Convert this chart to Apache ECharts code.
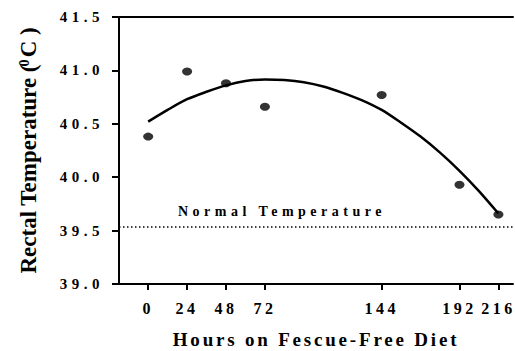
<!DOCTYPE html>
<html>
<head>
<meta charset="utf-8">
<script src="https://cdn.jsdelivr.net/npm/echarts@6/dist/echarts.min.js"></script>
<style>
  html, body { margin: 0; padding: 0; background: #fff; }
  #chart { width: 515px; height: 351px; }
</style>
</head>
<body>
<div id="chart"></div>
<script>
// measured rectal temperatures
const hours = [0, 24, 48, 72, 144, 192, 216];
const temps = [40.38, 40.99, 40.88, 40.66, 40.77, 39.93, 39.65];

// fitted curve, every 12 h
const fitHours = [0, 12, 24, 36, 48, 60, 72, 84, 96, 108, 120, 132, 144, 156, 168, 180, 192, 204, 216];
const fitTemps = [40.52, 40.63, 40.73, 40.80, 40.86, 40.90, 40.915, 40.91, 40.89, 40.85, 40.79, 40.72,
  40.63, 40.51, 40.38, 40.23, 40.06, 39.87, 39.66];

const normalTemp = 39.54;
const xTicks = [0, 24, 48, 72, 144, 192, 216];

const FONT = 'Liberation Serif';

const chart = echarts.init(document.getElementById('chart'), null, { renderer: 'svg' });

const option = {
  animation: false,
  grid: { left: 119, right: 2, top: 17, bottom: 67, outerBoundsMode: 'none' },
  xAxis: [
    {
      type: 'value',
      min: -18,
      max: 225,
      name: 'Hours on Fescue-Free Diet',
      nameLocation: 'middle',
      nameGap: 46,
      nameTextStyle: { fontFamily: FONT, fontWeight: 'bold', fontSize: 19, color: '#000' },
      axisLine: { onZero: false, lineStyle: { color: '#000', width: 2 } },
      axisTick: { customValues: xTicks, length: 6, lineStyle: { color: '#000', width: 2 } },
      axisLabel: {
        customValues: xTicks,
        margin: 16,
        fontFamily: FONT,
        fontWeight: 'bold',
        fontSize: 16,
        color: '#000'
      },
      splitLine: { show: false }
    },
    {
      type: 'value',
      position: 'top',
      min: -18,
      max: 225,
      axisLine: { onZero: false, lineStyle: { color: '#000', width: 2 } },
      axisTick: { show: false },
      axisLabel: { show: false },
      splitLine: { show: false }
    }
  ],
  yAxis: {
    type: 'value',
    min: 39,
    max: 41.5,
    interval: 0.5,
    name: '{t|Rectal Temperature (}{s|0}{t|C )}',
    nameLocation: 'middle',
    nameGap: 79,
    nameTextStyle: {
      rich: {
        t: { fontFamily: FONT, fontWeight: 'bold', fontSize: 23, color: '#000' },
        s: { fontFamily: FONT, fontWeight: 'bold', fontSize: 14, color: '#000', verticalAlign: 'top' }
      }
    },
    axisLine: { onZero: false, lineStyle: { color: '#000', width: 2 } },
    axisTick: { length: 7, lineStyle: { color: '#000', width: 2 } },
    axisLabel: {
      margin: 15,
      fontFamily: FONT,
      fontWeight: 'bold',
      fontSize: 15,
      color: '#000',
      formatter: (v) => v.toFixed(1)
    },
    splitLine: { show: false }
  },
  series: [
    {
      type: 'line',
      data: fitHours.map((h, i) => [h, fitTemps[i]]),
      smooth: 0.3,
      showSymbol: false,
      silent: true,
      lineStyle: { color: '#000', width: 2.5 },
      markLine: {
        silent: true,
        symbol: 'none',
        lineStyle: { color: '#000', width: 1.5, type: [1.5, 2.5] },
        label: {
          position: 'insideStartTop',
          distance: [59, 8],
          formatter: 'Normal Temperature',
          fontFamily: FONT,
          fontWeight: 'bold',
          fontSize: 14,
          color: '#000'
        },
        data: [{ yAxis: normalTemp }]
      }
    },
    {
      type: 'scatter',
      data: hours.map((h, i) => [h, temps[i]]),
      symbol: 'circle',
      symbolSize: [10, 8],
      itemStyle: { color: '#000' },
      z: 3
    }
  ]
};

chart.setOption(option);

// the original figure uses widely spaced lettering
const spacing = { '14px': '4.5px', '15px': '4.5px', '16px': '3.5px', '19px': '2.8px' };
function spaceLetters() {
  document.querySelectorAll('#chart text').forEach((t) => {
    const fs = getComputedStyle(t).fontSize;
    t.style.letterSpacing = spacing[fs] || '0px';
  });
}
chart.on('finished', spaceLetters);
spaceLetters();
</script>
</body>
</html>
